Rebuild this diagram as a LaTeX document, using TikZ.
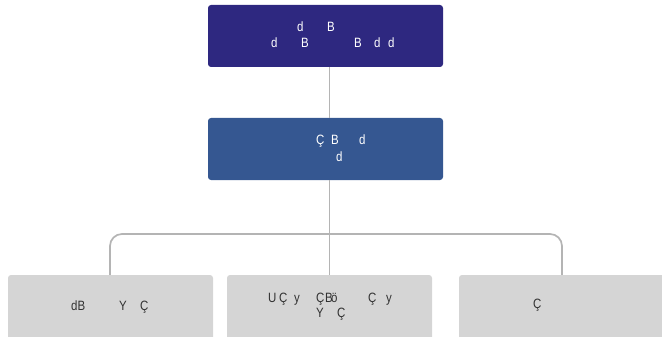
\documentclass[tikz,border=0pt]{standalone}
\usepackage{fontspec}
\setmainfont{Liberation Sans}[FakeStretch=0.85]
\begin{document}
\begin{tikzpicture}[x=1pt,y=-1pt,
  box/.style={rounded corners=3pt, minimum width=235pt, minimum height=62pt, inner sep=0pt},
  leaf/.style={rounded corners=3pt, fill=leafgray, minimum width=205pt, minimum height=70pt, inner sep=0pt},
  gl/.style={anchor=base west, inner sep=0pt, font=\fontsize{13.5}{15}\selectfont},
  link/.style={draw=linegray, line width=1.7pt}]
\definecolor{topblue}{RGB}{46,40,128}
\definecolor{midblue}{RGB}{53,87,145}
\definecolor{leafgray}{RGB}{213,213,213}
\definecolor{linegray}{RGB}{180,180,180}
\definecolor{darktext}{RGB}{50,50,50}
\useasboundingbox (0,0) rectangle (662,337);
\node[box, fill=topblue] (top) at (325.5,36) {};
\node[box, fill=midblue] (mid) at (325.5,149) {};
\node[leaf] (bl) at (110.5,310) {};
\node[leaf] (bm) at (329.5,310) {};
\node[leaf, minimum width=208pt] (br) at (563,310) {};
\coordinate (j) at (330,234);
\draw[link] (top.south -| bm.north) -- (mid.north -| bm.north);
\draw[link] (mid.south -| bm.north) -- (bm.north);
\draw[link, rounded corners=12pt] (bl.north -| 110,0) |- (j) -| (br.north -| 562,0);
\begin{scope}[text=white]
\node[gl] (t1) at (297,32) {d};
\node[gl] (t2) at (327,32) {B};
\node[gl] (t3) at (271,48) {d};
\node[gl] (t4) at (301,48) {B};
\node[gl] (t5) at (354,48) {B};
\node[gl] (t6) at (374,48) {d};
\node[gl] (t7) at (388,48) {d};
\node[gl] (m1) at (316,144) {Ç};
\node[gl] (m2) at (331,144) {B};
\node[gl] (m3) at (359,144) {d};
\node[gl] (m4) at (336,161) {d};
\end{scope}
\begin{scope}[text=darktext]
\node[gl] (a1) at (71,310) {dB};
\node[gl] (a2) at (119,310) {Y};
\node[gl] (a3) at (140,310) {Ç};
\node[gl] (b1) at (268,302) {U};
\node[gl] (b2) at (279,302) {Ç};
\node[gl] (b3) at (294,302) {y};
\node[gl] (b4) at (316,302) {Ç};
\node[gl] (b5) at (325,302) {B};
\node[gl] (b6) at (331,302) {ö};
\node[gl] (b7) at (368,302) {Ç};
\node[gl] (b8) at (386,302) {y};
\node[gl] (b9) at (316,317) {Y};
\node[gl] (b10) at (337,317) {Ç};
\node[gl] (c1) at (533,308) {Ç};
\end{scope}
\end{tikzpicture}
\end{document}
